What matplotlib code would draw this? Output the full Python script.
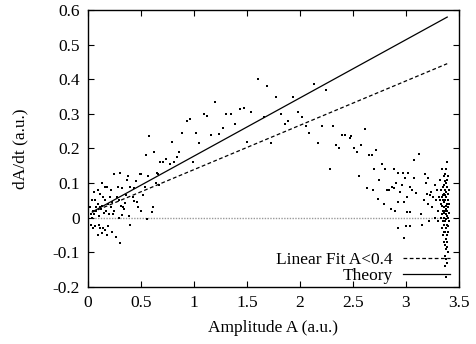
import numpy as np
import matplotlib
matplotlib.use('Agg')
import matplotlib.pyplot as plt

amp_low = [0.02, 0.03, 0.03, 0.04, 0.04, 0.05, 0.05, 0.06, 0.06, 0.07, 0.07, 0.08, 0.08, 0.09, 0.09,
           0.09, 0.10, 0.10, 0.11, 0.11, 0.11, 0.12, 0.13, 0.13, 0.13, 0.14, 0.14, 0.15, 0.16, 0.16,
           0.16, 0.17, 0.18, 0.18, 0.19, 0.19, 0.20, 0.21, 0.22, 0.22, 0.23, 0.23, 0.24, 0.25, 0.25,
           0.26, 0.27, 0.28, 0.29, 0.29, 0.30, 0.30, 0.31, 0.32, 0.32, 0.33, 0.34, 0.35, 0.36, 0.37,
           0.38, 0.39, 0.40, 0.40, 0.42, 0.43, 0.43, 0.45, 0.46, 0.47, 0.49, 0.50, 0.50, 0.52, 0.54,
           0.55, 0.56, 0.57, 0.58, 0.60, 0.61, 0.62, 0.64, 0.65, 0.66, 0.67, 0.68]
rate_low = [0.03, -0.02, 0.01, 0.0, 0.05, 0.02, -0.03, 0.01, 0.075, 0.05, -0.025, 0.03, 0.02, 0.08, 0.04,
            -0.05, 0.006, -0.02, 0.07, 0.03, -0.03, 0.025, 0.10, 0.035, -0.045, 0.06, -0.03, 0.015, 0.05, 0.088,
            -0.035, 0.02, 0.09, -0.05, 0.04, -0.025, 0.01, 0.06, 0.08, 0.03, -0.04, 0.045, 0.012, 0.125, 0.02,
            -0.055, 0.06, 0.09, 0.05, 0.0, 0.13, -0.073, 0.035, 0.085, 0.009, 0.03, 0.026, 0.043, 0.065, 0.11,
            0.12, 0.005, 0.09, -0.02, 0.06, 0.085, 0.047, 0.105, 0.045, 0.03, 0.125, 0.127, 0.02, 0.065, 0.09,
            0.18, -0.003, 0.12, 0.235, 0.017, 0.032, 0.19, 0.10, 0.13, 0.125, 0.095, 0.16]

amp_mid = [0.71, 0.74, 0.77, 0.79, 0.81, 0.84, 0.86, 0.89, 0.93, 0.96, 0.99, 1.02, 1.05, 1.09, 1.12,
           1.16, 1.20, 1.24, 1.27, 1.30, 1.35, 1.39, 1.43, 1.47, 1.50, 1.54, 1.60, 1.66, 1.69, 1.73,
           1.77, 1.82, 1.86, 1.89, 1.93, 1.98, 2.02, 2.06, 2.09, 2.13, 2.17, 2.21, 2.25, 2.28, 2.31,
           2.34, 2.37, 2.40, 2.43, 2.47]
rate_mid = [0.16, 0.17, 0.155, 0.22, 0.16, 0.175, 0.19, 0.245, 0.28, 0.285, 0.16, 0.245, 0.215, 0.30, 0.295,
            0.24, 0.335, 0.243, 0.26, 0.30, 0.30, 0.27, 0.315, 0.317, 0.22, 0.306, 0.40, 0.29, 0.38, 0.215,
            0.35, 0.30, 0.27, 0.28, 0.35, 0.305, 0.29, 0.265, 0.245, 0.385, 0.215, 0.265, 0.37, 0.14, 0.265,
            0.21, 0.20, 0.24, 0.24, 0.23]

amp_high = [2.48, 2.51, 2.54, 2.56, 2.58, 2.61, 2.63, 2.65, 2.68, 2.69, 2.70, 2.72, 2.74, 2.75, 2.77,
            2.79, 2.80, 2.82, 2.84, 2.86, 2.87, 2.89, 2.89, 2.90, 2.91, 2.93, 2.93, 2.93, 2.94, 2.96,
            2.97, 2.98, 2.98, 2.99, 3.00, 3.01, 3.01, 3.02, 3.04, 3.04, 3.04, 3.06, 3.08, 3.08, 3.10,
            3.12, 3.14, 3.15, 3.17, 3.18, 3.19, 3.20, 3.21, 3.21, 3.22, 3.23, 3.24, 3.25, 3.26, 3.27,
            3.27, 3.28, 3.29, 3.30, 3.30, 3.31]
rate_high = [0.235, 0.20, 0.19, 0.12, 0.21, 0.255, 0.085, 0.18, 0.18, 0.08, 0.14, 0.195, 0.055, 0.11, 0.155,
             0.04, 0.14, 0.08, 0.08, 0.026, 0.09, 0.085, 0.14, 0.02, 0.10, 0.13, 0.045, -0.03, 0.075, 0.095,
             0.13, 0.045, -0.058, 0.115, -0.023, 0.06, 0.017, 0.13, 0.09, 0.017, -0.023, 0.08, 0.167, 0.115, 0.072,
             0.185, 0.01, -0.02, 0.05, 0.127, 0.10, 0.07, 0.115, 0.04, -0.01, 0.065, 0.075, 0.03, 0.06, 0.095,
             0.0, 0.05, 0.08, 0.02, -0.01, 0.06]

amp_edge = [3.34, 3.35, 3.36, 3.37, 3.38, 3.39, 3.38, 3.36, 3.35, 3.34, 3.33, 3.37, 3.39, 3.40, 3.36,
            3.37, 3.38, 3.39, 3.40, 3.35, 3.34, 3.33, 3.36, 3.37, 3.38, 3.39, 3.40, 3.41, 3.35, 3.36,
            3.37, 3.38, 3.39, 3.40, 3.34, 3.35, 3.37, 3.38, 3.39, 3.36, 3.37, 3.38, 3.39, 3.40, 3.37,
            3.38, 3.39, 3.37, 3.38, 3.36, 3.38, 3.40, 3.41, 3.39, 3.37, 3.36, 3.40, 3.41, 3.38, 3.36,
            3.34, 3.41, 3.40, 3.36, 3.39, 3.38, 3.37, 3.39, 3.38, 3.35, 3.33, 3.32, 3.32]
rate_edge = [0.14, 0.09, 0.12, 0.127, 0.142, 0.16, 0.10, 0.07, 0.05, 0.06, 0.04, 0.08, 0.09, 0.07, 0.03,
             0.05, 0.06, 0.04, 0.03, 0.02, 0.01, 0.0, 0.0, 0.02, 0.01, 0.02, 0.0, 0.015, -0.01, -0.02,
             -0.01, -0.03, -0.02, -0.04, -0.03, -0.05, -0.04, -0.06, -0.05, -0.07, -0.08, -0.09, -0.07, -0.10, -0.11,
             -0.12, -0.13, -0.14, -0.17, 0.045, 0.035, 0.05, 0.04, 0.11, 0.105, 0.095, 0.12, 0.08, 0.025, 0.015,
             0.035, -0.01, -0.025, -0.04, -0.085, 0.075, 0.065, 0.005, -0.005, 0.065, 0.08, 0.05, 0.11]

amp = np.array(amp_low + amp_mid + amp_high + amp_edge)
rate = np.array(rate_low + rate_mid + rate_high + rate_edge)

# fitted / theoretical slopes
fit_slope, fit_icpt = 0.128, 0.011
theory_slope, theory_icpt = 0.168, 0.010
line_range = [0.04, 3.39]

plt.rcParams['font.family'] = ['Liberation Serif', 'DejaVu Serif']
plt.rcParams['font.size'] = 12.5

fig = plt.figure(figsize=(4.77, 3.44), dpi=100)
ax = fig.add_axes([0.1845, 0.1657, 0.7775, 0.8053])

xs = np.array(line_range)
ax.plot(xs, [0, 0], color='#999999', lw=1.0, ls=(0, (1, 1)), zorder=1)
ax.scatter(amp, rate, s=3, marker='s', color='black', linewidths=0, zorder=3)
ax.plot(xs, fit_slope * xs + fit_icpt, color='black', lw=0.9, ls=(0, (3, 2)), label='Linear Fit A<0.4')
ax.plot(xs, theory_slope * xs + theory_icpt, color='black', lw=0.9, label='Theory')

ax.set_xlim(0, 3.5)
ax.set_ylim(-0.2, 0.6)
ax.set_xticks(np.arange(0, 3.51, 0.5))
ax.set_yticks(np.arange(-0.2, 0.61, 0.1))
ax.set_xticklabels(['0', '0.5', '1', '1.5', '2', '2.5', '3', '3.5'])
ax.set_yticklabels(['-0.2', '-0.1', '0', '0.1', '0.2', '0.3', '0.4', '0.5', '0.6'])
ax.tick_params(direction='in', length=4, width=0.8, top=True, right=True, pad=6)
for s in ax.spines.values():
    s.set_linewidth(1.0)

ax.set_xlabel('Amplitude A (a.u.)', va='center')
ax.set_ylabel('dA/dt (a.u.)', va='center')
ax.xaxis.set_label_coords(0.5, -0.148)
ax.yaxis.set_label_coords(-0.183, 0.5)

ax.legend(loc='lower right', bbox_to_anchor=(0.995, -0.015), frameon=False, markerfirst=False,
          handlelength=2.7, handletextpad=0.6, labelspacing=0.0, borderaxespad=0.0, fontsize=12.5)

fig.savefig('out.png', dpi=100)
